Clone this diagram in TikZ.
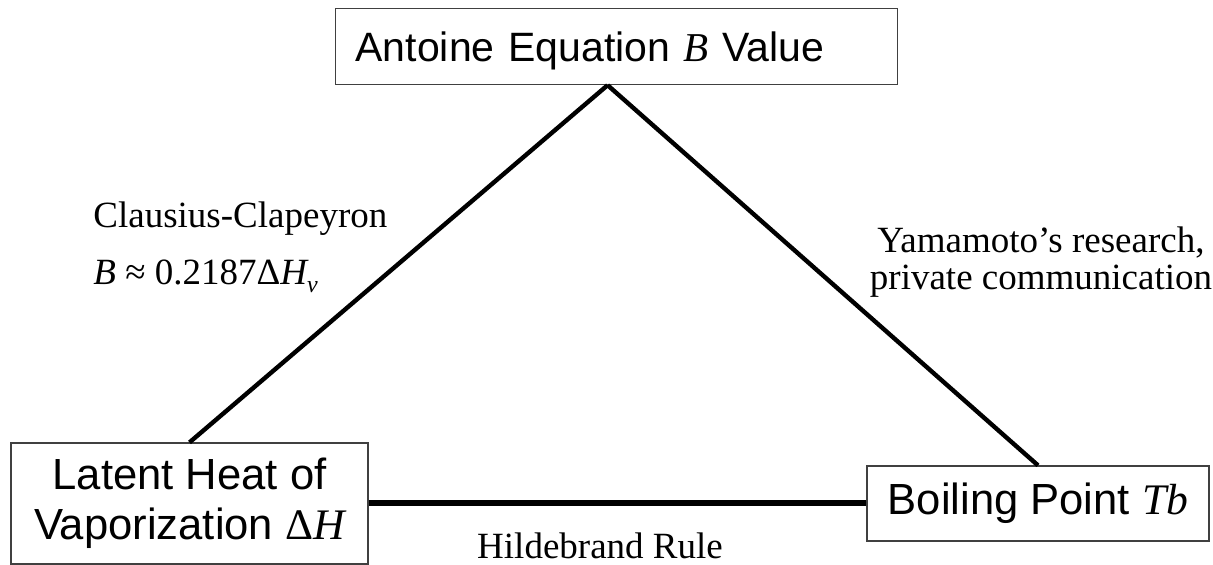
\documentclass[tikz,border=0pt]{standalone}
\usepackage{fontspec}
\setmainfont{Liberation Serif}
\setsansfont{Liberation Sans}
\usetikzlibrary{positioning}

\newcommand{\boxfont}{\sffamily\fontsize{21.8pt}{25pt}\selectfont}
\newcommand{\vari}[1]{{\rmfamily\itshape #1}}

\begin{document}
\begin{tikzpicture}[x=0.5pt, y=-0.5pt,
    box/.style={draw=black!75, line width=0.6pt, fill=white, inner sep=0pt, font=\boxfont},
    link/.style={line width=2.2pt},
    note/.style={inner sep=0pt}]
  \useasboundingbox (0,0) rectangle (1213,565);

  % Quantities
  \node[box, anchor=north west, minimum height=38pt, text width=261pt, inner xsep=10pt,
        text depth=0pt, align=left, font=\sffamily\fontsize{20.5pt}{24pt}\selectfont] (antoine)
    at (335,8) {Antoine Equation \vari{B} Value};
  \node[box, minimum width=178.5pt, minimum height=60.5pt, align=center] (latent)
    at (189.5,503.5) {Latent Heat of\\Vaporization {\rmfamily Δ\itshape H}};
  \node[box, minimum width=171pt, minimum height=37.5pt] (boiling)
    at (1038,503.5) {Boiling Point \vari{Tb}};

  % Relations
  \draw[link] ([xshift=-4.5pt]antoine.south) -- (latent.north);
  \draw[link] ([xshift=-4.5pt]antoine.south) -- (boiling.north);
  \draw[link, line width=3pt] (latent) -- (boiling);

  % Labels
  \node[note, anchor=north west, align=left, font={\fontsize{18.5pt}{28.5pt}\selectfont}] (clausius)
    at (93,201) {Clausius-Clapeyron\\\vari{B} ≈ 0.2187Δ\vari{H}\raisebox{-0.5ex}{\fontsize{12pt}{12pt}\selectfont\itshape v}};
  \node[note, anchor=north, align=center, font={\fontsize{18.5pt}{18.5pt}\selectfont}] (yamamoto)
    at (1041,226) {Yamamoto’s research,\\private communication};
  \node[note, anchor=base, font={\fontsize{18.5pt}{22pt}\selectfont}] (hildebrand)
    at (600,558) {Hildebrand Rule};
\end{tikzpicture}
\end{document}
